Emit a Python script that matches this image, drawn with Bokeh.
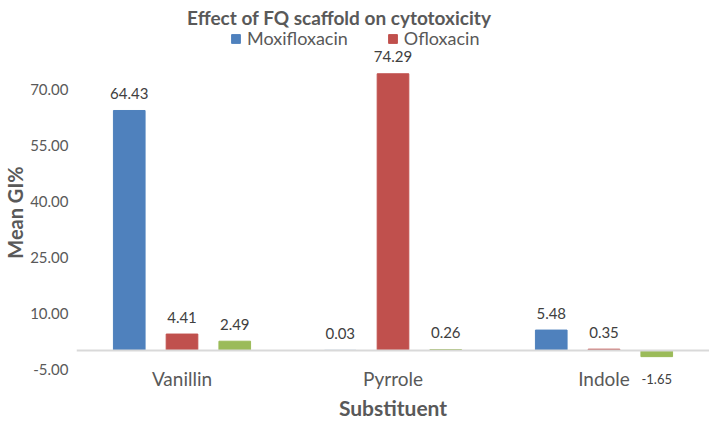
from bokeh.plotting import figure
from bokeh.models import (ColumnDataSource, FactorRange, Range1d, FixedTicker,
                          NumeralTickFormatter, Span, Label, Legend, LegendItem)
from bokeh.transform import dodge
from bokeh.core.properties import value
from bokeh.embed import file_html
from bokeh.resources import INLINE

# data
substituents = ["Vanillin", "Pyrrole", "Indole"]
moxifloxacin = [64.43, 0.03, 5.48]
ofloxacin = [4.41, 74.29, 0.35]
third_series = [2.49, 0.26, -1.65]
y_ticks = [-5, 10, 25, 40, 55, 70]

FONT = "Lato"
BLUE, RED, GREEN = "#4F81BD", "#C0504D", "#9BBB59"
GREY_TXT = "#595959"

# frame uses the full height; x axis texts are drawn inside it
p = figure(width=709, height=424, output_backend="svg", toolbar_location=None,
           x_range=FactorRange(*substituents, range_padding=0),
           y_range=Range1d(-19.87, 93.96))
p.min_border_left = 76
p.min_border_right = 0
p.min_border_top = 0
p.min_border_bottom = 0
p.outline_line_color = None
p.xgrid.visible = False
p.ygrid.visible = False
p.xaxis.visible = False

series = [("Moxifloxacin", moxifloxacin, BLUE, -0.25),
          ("Ofloxacin", ofloxacin, RED, 0.0),
          ("Series3", third_series, GREEN, 0.25)]

renderers = []
for name, vals, color, off in series:
    src = ColumnDataSource(dict(cat=substituents, val=vals))
    r = p.vbar(x=dodge("cat", off, range=p.x_range), top="val", bottom=0,
               width=0.15, fill_color=color, line_color=color, source=src)
    renderers.append((name, r))

    pos = ColumnDataSource(dict(cat=[c for c, v in zip(substituents, vals) if v >= 0],
                                val=[v for v in vals if v >= 0],
                                lab=["%.2f" % v for v in vals if v >= 0]))
    neg = ColumnDataSource(dict(cat=[c for c, v in zip(substituents, vals) if v < 0],
                                val=[v for v in vals if v < 0],
                                lab=["%.2f" % v for v in vals if v < 0]))
    p.text(x=dodge("cat", off, range=p.x_range), y="val", text="lab", source=pos,
           text_align="center", text_baseline="middle", y_offset=-17,
           text_font=value(FONT), text_font_size="15px", text_color="#404040")
    p.text(x=dodge("cat", off, range=p.x_range), y="val", text="lab", source=neg,
           text_align="center", text_baseline="middle", y_offset=22,
           text_font=value(FONT), text_font_size="13px", text_color="#404040")

p.add_layout(Span(location=0, dimension="width", line_color="#D9D9D9", line_width=2))

# y axis
p.yaxis.ticker = FixedTicker(ticks=y_ticks)
p.yaxis.formatter = NumeralTickFormatter(format="0.00")
p.yaxis.axis_line_color = None
p.yaxis.major_tick_line_color = None
p.yaxis.minor_tick_line_color = None
p.yaxis.major_tick_out = 0
p.yaxis.major_label_text_font = FONT
p.yaxis.major_label_text_font_size = "15px"
p.yaxis.major_label_text_color = GREY_TXT
p.yaxis.major_label_standoff = 8
p.yaxis.axis_label = "Mean GI%"
p.yaxis.axis_label_text_font = FONT
p.yaxis.axis_label_text_font_style = "bold"
p.yaxis.axis_label_text_font_size = "20px"
p.yaxis.axis_label_text_color = GREY_TXT
p.yaxis.axis_label_standoff = 0

# category labels and x axis title
cat_src = ColumnDataSource(dict(cat=substituents))
p.text(x="cat", y=-5, text="cat", source=cat_src, y_offset=9,
       text_align="center", text_baseline="middle",
       text_font=value(FONT), text_font_size="19px", text_color=GREY_TXT)
p.add_layout(Label(x=1.5, y=-5, y_offset=-38, text="Substituent",
                   text_align="center", text_baseline="middle",
                   text_font=FONT, text_font_style="bold", text_font_size="21px",
                   text_color=GREY_TXT))

# title
p.add_layout(Label(x=1.245, y=89.5, text="Effect of FQ scaffold on cytotoxicity",
                   text_align="center", text_baseline="alphabetic",
                   text_font=FONT, text_font_style="bold", text_font_size="19px",
                   text_color=GREY_TXT))

# legend (third series is not listed in the original)
legend = Legend(items=[LegendItem(label=n, renderers=[r]) for n, r in renderers[:2]],
                location=(154, 375), orientation="horizontal")
legend.border_line_color = None
legend.background_fill_alpha = 0
legend.label_text_font = FONT
legend.label_text_font_size = "18px"
legend.label_text_color = GREY_TXT
legend.glyph_width = 11
legend.glyph_height = 11
legend.label_standoff = 6
legend.spacing = 39
legend.padding = 0
legend.margin = 0
p.add_layout(legend)

open("out.html", "w").write(file_html(p, INLINE))
